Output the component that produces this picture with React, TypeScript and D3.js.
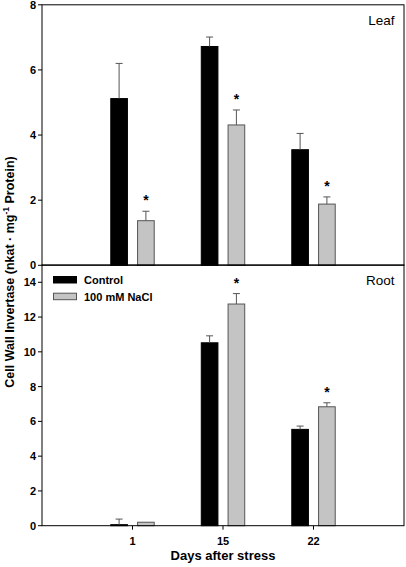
import React from "react";
import * as d3 from "d3";

const days = ["1", "15", "22"];
const leafControl = [5.12, 6.72, 3.55];
const leafControlErr = [1.08, 0.29, 0.5];
const leafNaCl = [1.37, 4.31, 1.88];
const leafNaClErr = [0.29, 0.46, 0.22];
const leafSig = [true, true, true];

const rootControl = [0.06, 10.52, 5.54];
const rootControlErr = [0.32, 0.4, 0.19];
const rootNaCl = [0.2, 12.75, 6.84];
const rootNaClErr = [0, 0.6, 0.23];
const rootSig = [false, true, true];

const leafTicks = [0, 2, 4, 6, 8];
const rootTicks = [0, 2, 4, 6, 8, 10, 12, 14];
const seriesNames = ["Control", "100 mM NaCl"];

const W = 406;
const H = 567;
const left = 42;
const right = 404;
const FONT = "Arial, 'Liberation Sans', sans-serif";
const GRAY = "#c4c4c4";
const EDGE = "#555";

const x = d3.scaleLinear().domain([0, 4]).range([left, right]);
const yLeaf = d3.scaleLinear().domain([0, 8]).range([265.3, 4.8]);
const yRoot = d3.scaleLinear().domain([0, 15]).range([525.7, 264.9]);

const barW = 0.184;
const offset = 0.148;

function Panel({
  y,
  ticks,
  control,
  controlErr,
  nacl,
  naclErr,
  sig,
  label,
}: {
  y: d3.ScaleLinear<number, number>;
  ticks: number[];
  control: number[];
  controlErr: number[];
  nacl: number[];
  naclErr: number[];
  sig: boolean[];
  label: string;
}) {
  const [y0, y1] = y.range();
  const bw = x(barW) - x(0);
  const bars: React.ReactNode[] = [];
  days.forEach((d, i) => {
    const c = i + 1;
    const series = [
      { v: control[i], e: controlErr[i], fill: "#000", stroke: "#000", cx: x(c - offset) },
      { v: nacl[i], e: naclErr[i], fill: GRAY, stroke: EDGE, cx: x(c + offset) },
    ];
    series.forEach((s, j) => {
      bars.push(
        <rect
          key={`b${i}${j}`}
          x={s.cx - bw / 2}
          y={y(s.v)}
          width={bw}
          height={y(0) - y(s.v)}
          fill={s.fill}
          stroke={s.stroke}
          strokeWidth={1}
        />
      );
      if (s.e > 0) {
        const top = y(s.v + s.e);
        bars.push(
          <g key={`e${i}${j}`} stroke={EDGE} strokeWidth={1}>
            <line x1={s.cx} x2={s.cx} y1={y(s.v)} y2={top} />
            <line x1={s.cx - 3.5} x2={s.cx + 3.5} y1={top} y2={top} />
          </g>
        );
      }
    });
    if (sig[i]) {
      const s = series[1];
      bars.push(
        <text
          key={`s${i}`}
          x={s.cx}
          y={y(s.v + s.e) - 6}
          textAnchor="middle"
          fontSize={14}
          fontWeight="bold"
          fontFamily={FONT}
        >
          *
        </text>
      );
    }
  });
  return (
    <g>
      {bars}
      <rect x={left} y={y1} width={right - left} height={y0 - y1} fill="none" stroke="#000" strokeWidth={1} />
      {ticks.map((t) => (
        <g key={t}>
          <line x1={left - 4} x2={left} y1={y(t)} y2={y(t)} stroke="#000" />
          <text
            x={left - 6}
            y={y(t)}
            dy="0.36em"
            textAnchor="end"
            fontSize={11}
            fontWeight="bold"
            fontFamily={FONT}
          >
            {t}
          </text>
        </g>
      ))}
      <text x={394.5} y={y1 + 20.5} textAnchor="end" fontSize={13.5} fontFamily={FONT}>
        {label}
      </text>
    </g>
  );
}

export default function App() {
  return (
    <svg
      width={W}
      height={H}
      style={{ position: "absolute", left: 0, top: 0, background: "#fff" }}
    >
      <rect width={W} height={H} fill="#fff" />
      <Panel
        y={yLeaf}
        ticks={leafTicks}
        control={leafControl}
        controlErr={leafControlErr}
        nacl={leafNaCl}
        naclErr={leafNaClErr}
        sig={leafSig}
        label="Leaf"
      />
      <Panel
        y={yRoot}
        ticks={rootTicks}
        control={rootControl}
        controlErr={rootControlErr}
        nacl={rootNaCl}
        naclErr={rootNaClErr}
        sig={rootSig}
        label="Root"
      />
      {days.map((d, i) => (
        <g key={d}>
          <line x1={x(i + 1)} x2={x(i + 1)} y1={yRoot(0)} y2={yRoot(0) + 4} stroke="#000" />
          <text
            x={x(i + 1)}
            y={544.5}
            textAnchor="middle"
            fontSize={11}
            fontWeight="bold"
            fontFamily={FONT}
          >
            {d}
          </text>
        </g>
      ))}
      {seriesNames.map((n, i) => (
        <g key={n}>
          <rect
            x={53.5}
            y={276.5 + i * 16.7}
            width={23}
            height={6.5}
            fill={i === 0 ? "#000" : GRAY}
            stroke={i === 0 ? "#000" : EDGE}
          />
          <text x={84} y={284 + i * 16.7} fontSize={11} fontWeight="bold" fontFamily={FONT}>
            {n}
          </text>
        </g>
      ))}
      <text
        x={223}
        y={559.5}
        textAnchor="middle"
        fontSize={13}
        fontWeight="bold"
        fontFamily={FONT}
      >
        Days after stress
      </text>
      <text
        transform="translate(13.5,272) rotate(-90)"
        textAnchor="middle"
        fontSize={12.5}
        fontWeight="bold"
        fontFamily={FONT}
      >
        Cell Wall Invertase (nkat · mg
        <tspan dy={-4.5} fontSize={8.5}>-1</tspan>
        <tspan dy={4.5}> Protein)</tspan>
      </text>
    </svg>
  );
}
